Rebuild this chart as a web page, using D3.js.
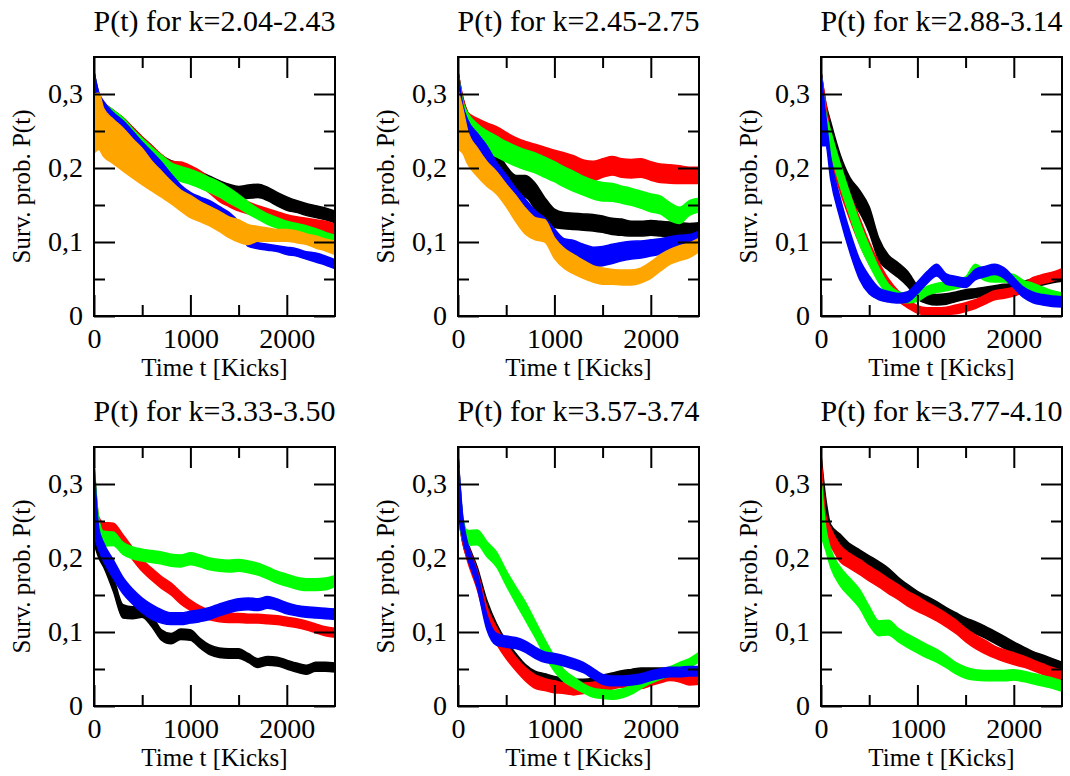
<!DOCTYPE html>
<html>
<head>
<meta charset="utf-8">
<script src="https://cdn.jsdelivr.net/npm/d3@7"></script>
<style>
  body { margin: 0; background: #fff; }
  svg { display: block; }
  text { font-family: "Liberation Serif", "Times New Roman", serif; fill: #000; }
</style>
</head>
<body>
<svg id="chart" width="1070" height="776"></svg>
<script>
// time samples (kicks) shared by every band
const T = [0, 50, 100, 200, 300, 400, 500, 600, 700, 800, 900, 1000, 1100, 1200, 1300,
  1400, 1500, 1600, 1700, 1800, 1900, 2000, 2100, 2200, 2300, 2400, 2500];

const titles = ["P(t) for k=2.04-2.43", "P(t) for k=2.45-2.75", "P(t) for k=2.88-3.14",
  "P(t) for k=3.33-3.50", "P(t) for k=3.57-3.74", "P(t) for k=3.77-4.10"];

const xTicks = [0, 1000, 2000];
const xMinor = [500, 1500];
const yTicks = [0, 0.1, 0.2, 0.3];
const yMinor = [0.05, 0.15, 0.25];

// each band: centre value (mid) and thickness of the noise (w)
// --- panel 1
const p1BlackMid = [.28,.29,.28,.268,.258,.245,.232,.22,.207,.201,.197,.192,.186,.18,.174,.169,.166,.168,.169,.165,.158,.152,.148,.144,.141,.138,.134];
const p1BlackW = [.1,.02,.018,.02,.02,.02,.02,.02,.02,.018,.018,.018,.018,.018,.018,.018,.018,.018,.018,.018,.018,.018,.016,.016,.016,.016,.016];
const p1RedMid = [.28,.29,.28,.268,.258,.245,.232,.22,.208,.2,.198,.193,.186,.176,.165,.157,.151,.146,.141,.137,.133,.129,.126,.124,.122,.12,.117];
const p1RedW = [.1,.02,.018,.02,.02,.02,.02,.02,.02,.018,.02,.02,.02,.02,.02,.018,.018,.016,.016,.016,.016,.016,.016,.016,.016,.016,.014];
const p1GreenMid = [.28,.29,.28,.268,.258,.243,.23,.218,.207,.197,.192,.188,.183,.177,.171,.163,.155,.146,.138,.131,.126,.122,.119,.116,.112,.108,.104];
const p1GreenW = [.1,.02,.018,.02,.02,.02,.02,.02,.02,.02,.02,.02,.02,.02,.02,.02,.018,.016,.014,.014,.014,.012,.012,.012,.012,.01,.01];
const p1BlueMid = [.28,.292,.281,.265,.255,.24,.226,.212,.198,.183,.17,.161,.155,.15,.142,.133,.121,.098,.095,.093,.091,.088,.086,.082,.079,.075,.07];
const p1BlueW = [.1,.02,.018,.02,.018,.02,.018,.02,.02,.018,.014,.012,.012,.012,.012,.014,.012,.008,.008,.008,.008,.01,.01,.01,.012,.012,.012];
const p1OrangeMid = [.26,.263,.248,.236,.225,.213,.202,.189,.178,.167,.156,.148,.141,.135,.128,.12,.115,.11,.111,.11,.109,.109,.107,.104,.1,.096,.092];
const p1OrangeW = [.08,.076,.065,.06,.058,.053,.049,.04,.035,.03,.028,.03,.027,.026,.027,.028,.03,.027,.02,.018,.016,.016,.016,.014,.016,.016,.018];
// --- panel 2
const p2BlackMid = [.28,.285,.266,.25,.232,.212,.188,.175,.175,.162,.145,.132,.129,.128,.127,.126,.124,.121,.12,.118,.118,.119,.118,.117,.116,.116,.117];
const p2BlackW = [.1,.02,.018,.02,.025,.025,.03,.03,.03,.035,.03,.025,.022,.022,.022,.022,.022,.022,.022,.02,.02,.02,.02,.02,.02,.018,.018];
const p2RedMid = [.28,.285,.268,.258,.251,.246,.238,.231,.226,.222,.217,.212,.208,.204,.198,.196,.2,.203,.2,.199,.2,.196,.193,.192,.191,.19,.19];
const p2RedW = [.1,.02,.015,.018,.02,.02,.02,.02,.02,.02,.022,.024,.025,.025,.026,.026,.025,.025,.025,.025,.025,.025,.025,.025,.024,.022,.022];
const p2GreenMid = [.28,.28,.262,.246,.236,.229,.222,.216,.211,.207,.201,.195,.188,.182,.176,.171,.168,.167,.164,.161,.157,.153,.15,.141,.136,.146,.15];
const p2GreenW = [.1,.02,.025,.027,.028,.028,.027,.027,.027,.027,.027,.027,.027,.027,.025,.025,.025,.024,.023,.023,.023,.024,.024,.024,.022,.02,.018];
const p2BlueMid = [.28,.27,.25,.232,.215,.195,.178,.16,.145,.13,.12,.105,.092,.088,.083,.08,.081,.084,.087,.089,.09,.092,.094,.097,.1,.102,.107];
const p2BlueW = [.1,.03,.03,.03,.03,.025,.025,.025,.025,.025,.025,.025,.025,.028,.028,.026,.026,.026,.025,.024,.023,.022,.021,.02,.018,.016,.015];
const p2OrangeMid = [.265,.25,.228,.208,.192,.18,.163,.145,.128,.118,.115,.092,.078,.07,.063,.057,.054,.053,.052,.052,.055,.062,.072,.08,.085,.089,.096];
const p2OrangeW = [.08,.06,.045,.038,.033,.03,.03,.035,.035,.03,.03,.028,.027,.026,.024,.022,.022,.02,.02,.02,.02,.022,.022,.02,.02,.02,.018];
// --- panel 3
const p3BlackMid = [.28,.27,.245,.2,.172,.155,.13,.09,.072,.062,.05,.032,.024,.022,.023,.026,.029,.031,.033,.035,.037,.039,.042,.045,.047,.05,.052];
const p3BlackW = [.1,.035,.035,.035,.03,.03,.035,.03,.02,.02,.02,.018,.014,.014,.014,.013,.013,.012,.012,.012,.012,.01,.01,.01,.01,.01,.01];
const p3RedMid = [.29,.27,.23,.185,.148,.115,.085,.06,.04,.027,.017,.009,.006,.006,.007,.009,.012,.016,.022,.028,.03,.033,.038,.046,.05,.053,.058];
const p3RedW = [.08,.035,.035,.035,.035,.035,.03,.025,.02,.014,.012,.01,.01,.01,.01,.012,.012,.012,.012,.012,.012,.012,.012,.012,.012,.012,.012];
const p3GreenMid = [.28,.26,.235,.19,.15,.112,.082,.055,.035,.026,.024,.026,.034,.038,.04,.043,.047,.063,.055,.052,.052,.05,.042,.038,.033,.028,.025];
const p3GreenW = [.1,.03,.03,.03,.03,.03,.025,.02,.016,.014,.012,.012,.012,.012,.012,.012,.012,.014,.014,.012,.012,.012,.012,.012,.012,.012,.012];
const p3BlueMid = [.28,.25,.2,.145,.1,.063,.042,.03,.026,.024,.026,.038,.052,.062,.05,.047,.045,.056,.06,.063,.058,.045,.032,.025,.022,.02,.019];
const p3BlueW = [.1,.04,.03,.028,.028,.027,.024,.016,.014,.013,.014,.016,.016,.016,.014,.013,.013,.014,.014,.014,.014,.014,.014,.014,.014,.014,.014];
// --- panel 4
const p4BlackMid = [.27,.22,.198,.165,.128,.126,.128,.115,.096,.091,.097,.096,.085,.076,.072,.071,.071,.065,.058,.061,.06,.056,.052,.049,.053,.053,.052];
const p4BlackW = [.1,.04,.02,.02,.018,.016,.016,.016,.014,.014,.014,.014,.013,.013,.013,.013,.013,.012,.012,.012,.012,.012,.012,.012,.012,.012,.012];
const p4RedMid = [.29,.245,.24,.239,.224,.206,.19,.178,.167,.158,.146,.136,.128,.123,.12,.119,.119,.118,.118,.117,.116,.114,.112,.109,.105,.101,.099];
const p4RedW = [.08,.02,.016,.016,.015,.016,.016,.016,.016,.016,.016,.014,.014,.013,.012,.012,.012,.012,.012,.012,.012,.012,.012,.012,.012,.012,.012];
const p4GreenMid = [.29,.24,.226,.226,.213,.207,.204,.202,.2,.197,.196,.199,.196,.192,.19,.189,.19,.188,.185,.18,.174,.17,.166,.164,.164,.165,.169];
const p4GreenW = [.08,.025,.02,.018,.016,.016,.016,.016,.016,.016,.016,.016,.016,.016,.016,.016,.016,.016,.016,.016,.016,.016,.016,.016,.016,.016,.014];
const p4BlueMid = [.28,.225,.208,.185,.163,.148,.136,.127,.121,.118,.118,.12,.122,.125,.13,.134,.137,.138,.137,.14,.137,.132,.129,.127,.126,.125,.124];
const p4BlueW = [.1,.03,.025,.025,.022,.02,.02,.02,.018,.016,.016,.016,.016,.016,.016,.016,.016,.016,.016,.016,.015,.015,.014,.014,.014,.014,.014];
// --- panel 5
const p5BlackMid = [.3,.235,.21,.175,.13,.1,.078,.062,.048,.039,.036,.033,.031,.029,.029,.031,.035,.038,.041,.043,.045,.045,.045,.044,.043,.043,.044];
const p5BlackW = [.08,.03,.025,.025,.025,.022,.02,.018,.016,.016,.015,.014,.014,.014,.014,.013,.013,.013,.013,.013,.013,.013,.013,.013,.013,.013,.013];
const p5RedMid = [.3,.235,.208,.17,.122,.095,.074,.057,.043,.033,.029,.026,.024,.022,.024,.025,.027,.03,.032,.031,.03,.034,.038,.041,.039,.035,.036];
const p5RedW = [.08,.03,.025,.025,.025,.022,.02,.018,.018,.018,.016,.016,.014,.014,.014,.014,.014,.014,.013,.013,.013,.013,.013,.013,.013,.013,.013];
const p5GreenMid = [.3,.24,.227,.228,.212,.198,.173,.15,.128,.104,.079,.057,.041,.032,.024,.018,.016,.015,.017,.022,.03,.037,.042,.047,.053,.058,.066];
const p5GreenW = [.08,.03,.02,.02,.02,.02,.02,.022,.024,.022,.022,.02,.016,.014,.012,.012,.012,.012,.012,.012,.012,.012,.012,.012,.012,.012,.013];
const p5BlueMid = [.3,.24,.21,.17,.113,.09,.087,.085,.08,.072,.066,.064,.061,.057,.052,.044,.036,.034,.034,.035,.037,.041,.044,.046,.046,.047,.047];
const p5BlueW = [.08,.03,.02,.02,.02,.016,.015,.015,.015,.015,.014,.014,.014,.014,.014,.014,.013,.013,.013,.013,.013,.013,.013,.013,.013,.013,.013];
// --- panel 6
const p6BlackMid = [.31,.26,.235,.224,.211,.203,.195,.187,.178,.166,.156,.147,.14,.133,.125,.118,.111,.106,.1,.093,.086,.079,.073,.067,.063,.058,.053];
const p6BlackW = [.06,.04,.02,.016,.016,.016,.016,.016,.016,.016,.016,.016,.016,.016,.016,.016,.016,.016,.016,.016,.016,.015,.014,.013,.012,.012,.012];
const p6RedMid = [.3,.24,.228,.206,.196,.188,.179,.171,.162,.154,.145,.138,.131,.124,.116,.107,.096,.087,.08,.073,.068,.064,.06,.055,.05,.045,.041];
const p6RedW = [.08,.035,.025,.022,.02,.02,.02,.02,.02,.02,.02,.02,.018,.018,.018,.018,.018,.018,.018,.016,.016,.016,.015,.014,.014,.014,.014];
const p6GreenMid = [.27,.225,.2,.175,.16,.145,.122,.105,.106,.096,.088,.081,.074,.068,.06,.051,.045,.042,.041,.041,.041,.042,.04,.037,.034,.031,.027];
const p6GreenW = [.08,.03,.025,.025,.025,.025,.025,.02,.02,.018,.018,.018,.018,.017,.016,.015,.015,.014,.014,.014,.014,.014,.014,.014,.014,.014,.014];

const COLORS = { black: "#000000", red: "#ff0000", green: "#00ff00", blue: "#0000ff", orange: "#ffa500" };

// series per panel, in drawing order
const panels = [
  [["black", p1BlackMid, p1BlackW], ["red", p1RedMid, p1RedW], ["green", p1GreenMid, p1GreenW], ["blue", p1BlueMid, p1BlueW], ["orange", p1OrangeMid, p1OrangeW]],
  [["black", p2BlackMid, p2BlackW], ["red", p2RedMid, p2RedW], ["green", p2GreenMid, p2GreenW], ["blue", p2BlueMid, p2BlueW], ["orange", p2OrangeMid, p2OrangeW]],
  [["black", p3BlackMid, p3BlackW], ["red", p3RedMid, p3RedW], ["green", p3GreenMid, p3GreenW], ["blue", p3BlueMid, p3BlueW]],
  [["black", p4BlackMid, p4BlackW], ["red", p4RedMid, p4RedW], ["green", p4GreenMid, p4GreenW], ["blue", p4BlueMid, p4BlueW]],
  [["black", p5BlackMid, p5BlackW], ["red", p5RedMid, p5RedW], ["green", p5GreenMid, p5GreenW], ["blue", p5BlueMid, p5BlueW]],
  [["black", p6BlackMid, p6BlackW], ["red", p6RedMid, p6RedW], ["green", p6GreenMid, p6GreenW]]
];

// layout
const PW = 241, PH = 259;
const colLeft = [94, 458, 821];
const rowTop = [57, 447];
const MAJOR = 21, MINOR = 11;

const svg = d3.select("#chart");

const yFmt = (d) => (d === 0 ? "0" : d3.format(".1f")(d).replace(".", ","));

function styleAxis(sel, fontSize) {
  sel.select(".domain").remove();
  sel.selectAll(".tick line").attr("stroke", "#000").attr("stroke-width", 2);
  sel.selectAll("text")
    .attr("font-family", "'Liberation Serif', 'Times New Roman', serif")
    .attr("font-size", fontSize)
    .attr("fill", "#000");
}

panels.forEach((series, i) => {
  const left = colLeft[i % 3];
  const top = rowTop[Math.floor(i / 3)];

  const x = d3.scaleLinear().domain([0, 2500]).range([0, PW]);
  const y = d3.scaleLinear().domain([0, 0.35]).range([PH, 0]);

  const g = svg.append("g").attr("transform", `translate(${left},${top})`);

  g.append("clipPath").attr("id", "clip" + i)
    .append("rect").attr("width", PW).attr("height", PH);

  const area = d3.area()
    .x((d, j) => x(T[j]))
    .y0((d) => y(d[0] - d[1] / 2))
    .y1((d) => y(d[0] + d[1] / 2))
    .curve(d3.curveMonotoneX);

  const bands = g.append("g").attr("clip-path", `url(#clip${i})`);
  series.forEach(([name, mid, w]) => {
    bands.append("path")
      .datum(d3.zip(mid, w))
      .attr("d", area)
      .attr("fill", COLORS[name])
      .attr("stroke", COLORS[name])
      .attr("stroke-width", 1.5);
  });

  // ticks on all four sides, pointing inward
  g.append("g").attr("transform", `translate(0,${PH})`)
    .call(d3.axisBottom(x).tickValues(xTicks).tickSize(-MAJOR).tickPadding(12).tickFormat(d3.format("d")))
    .call((s) => styleAxis(s, 28));
  g.append("g").attr("transform", `translate(0,${PH})`)
    .call(d3.axisBottom(x).tickValues(xMinor).tickSize(-MINOR).tickFormat(""))
    .call((s) => styleAxis(s, 28));
  g.append("g")
    .call(d3.axisTop(x).tickValues(xTicks).tickSize(-MAJOR).tickFormat(""))
    .call((s) => styleAxis(s, 28));
  g.append("g")
    .call(d3.axisTop(x).tickValues(xMinor).tickSize(-MINOR).tickFormat(""))
    .call((s) => styleAxis(s, 28));

  g.append("g")
    .call(d3.axisLeft(y).tickValues(yTicks).tickSize(-MAJOR).tickPadding(11).tickFormat(yFmt))
    .call((s) => styleAxis(s, 28));
  g.append("g")
    .call(d3.axisLeft(y).tickValues(yMinor).tickSize(-MINOR).tickFormat(""))
    .call((s) => styleAxis(s, 28));
  g.append("g").attr("transform", `translate(${PW},0)`)
    .call(d3.axisRight(y).tickValues(yTicks).tickSize(-MAJOR).tickFormat(""))
    .call((s) => styleAxis(s, 28));
  g.append("g").attr("transform", `translate(${PW},0)`)
    .call(d3.axisRight(y).tickValues(yMinor).tickSize(-MINOR).tickFormat(""))
    .call((s) => styleAxis(s, 28));

  g.append("rect")
    .attr("width", PW).attr("height", PH)
    .attr("fill", "none").attr("stroke", "#000").attr("stroke-width", 2);

  g.append("text")
    .attr("x", PW / 2).attr("y", -26)
    .attr("text-anchor", "middle")
    .attr("font-size", 30)
    .text(titles[i]);

  g.append("text")
    .attr("x", PW / 2).attr("y", PH + 60)
    .attr("text-anchor", "middle")
    .attr("font-size", 25)
    .text("Time t [Kicks]");

  g.append("text")
    .attr("transform", `translate(-64,${PH / 2}) rotate(-90)`)
    .attr("text-anchor", "middle")
    .attr("font-size", 25)
    .text("Surv. prob. P(t)");
});
</script>
</body>
</html>
